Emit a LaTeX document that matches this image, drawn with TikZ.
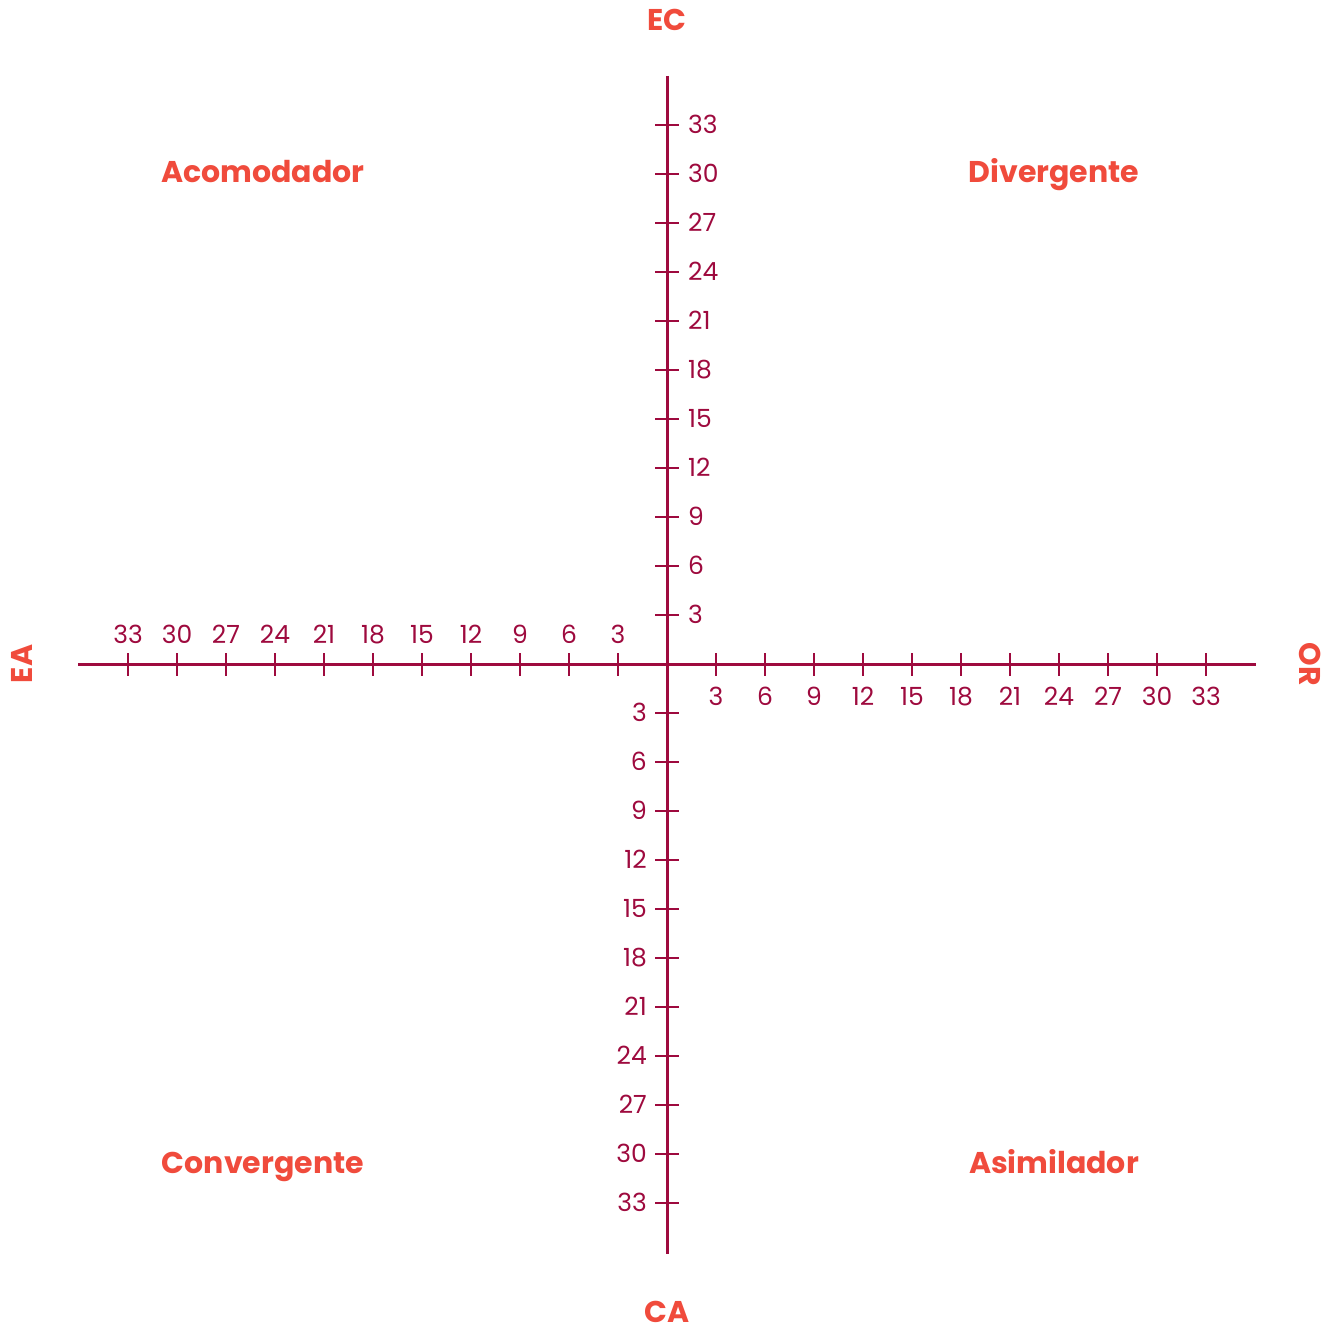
\documentclass[tikz,border=0pt]{standalone}
\usepackage{fontspec}
\setmainfont{Poppins}
\definecolor{axiscol}{HTML}{9E0A3E}
\definecolor{labcol}{HTML}{F04B3C}
\begin{document}
\begin{tikzpicture}[x=1pt,y=-1pt,
  axisline/.style={draw=axiscol,line width=3pt},
  tickline/.style={draw=axiscol,line width=2.8pt},
  num/.style={text=axiscol,font=\fontsize{25}{30}\selectfont,inner sep=0pt,text height=17.5pt,text depth=0pt},
  ttl/.style={text=labcol,font=\fontsize{30}{36}\selectfont\bfseries,inner sep=0pt}]
\useasboundingbox (0,0) rectangle (1338,1329);
\coordinate (O) at (667,664);
\coordinate (W) at (78,664);
\coordinate (E) at (1256,664);
\coordinate (N) at (667,76);
\coordinate (S) at (667,1254);
\draw[axisline] (W) -- (E);
\draw[axisline] (N) -- (S);
\foreach \i in {1,...,11}{
  \pgfmathtruncatemacro\v{3*\i}
  \pgfmathsetmacro\d{49*\i}
  \draw[tickline] (667+\d,653) -- (667+\d,676);
  \draw[tickline] (667-\d,653) -- (667-\d,676);
  \draw[tickline] (655,664-\d) -- (679,664-\d);
  \draw[tickline] (655,664+\d) -- (679,664+\d);
  \node[num] (xp\i) at (667+\d,697) {\v};
  \node[num] (xn\i) at (667-\d,635) {\v};
  \node[num,anchor=west] (yp\i) at (688,664-\d) {\v};
  \node[num,anchor=east] (yn\i) at (647,664+\d) {\v};
}
\node[ttl,anchor=base] (ec) at (667,31) {EC};
\node[ttl,anchor=base] (ca) at (667,1322) {CA};
\node[ttl,rotate=90,text height=21pt,text depth=0pt] (ea) at (22,664) {EA};
\node[ttl,rotate=-90,text height=21pt,text depth=0pt] (or) at (1310,664) {OR};
\node[ttl,anchor=base] (acom) at (263,183) {Acomodador};
\node[ttl,anchor=base] (div) at (1054,183) {Divergente};
\node[ttl,anchor=base] (conv) at (263,1173) {Convergente};
\node[ttl,anchor=base] (asim) at (1054,1173) {Asimilador};
\end{tikzpicture}
\end{document}
